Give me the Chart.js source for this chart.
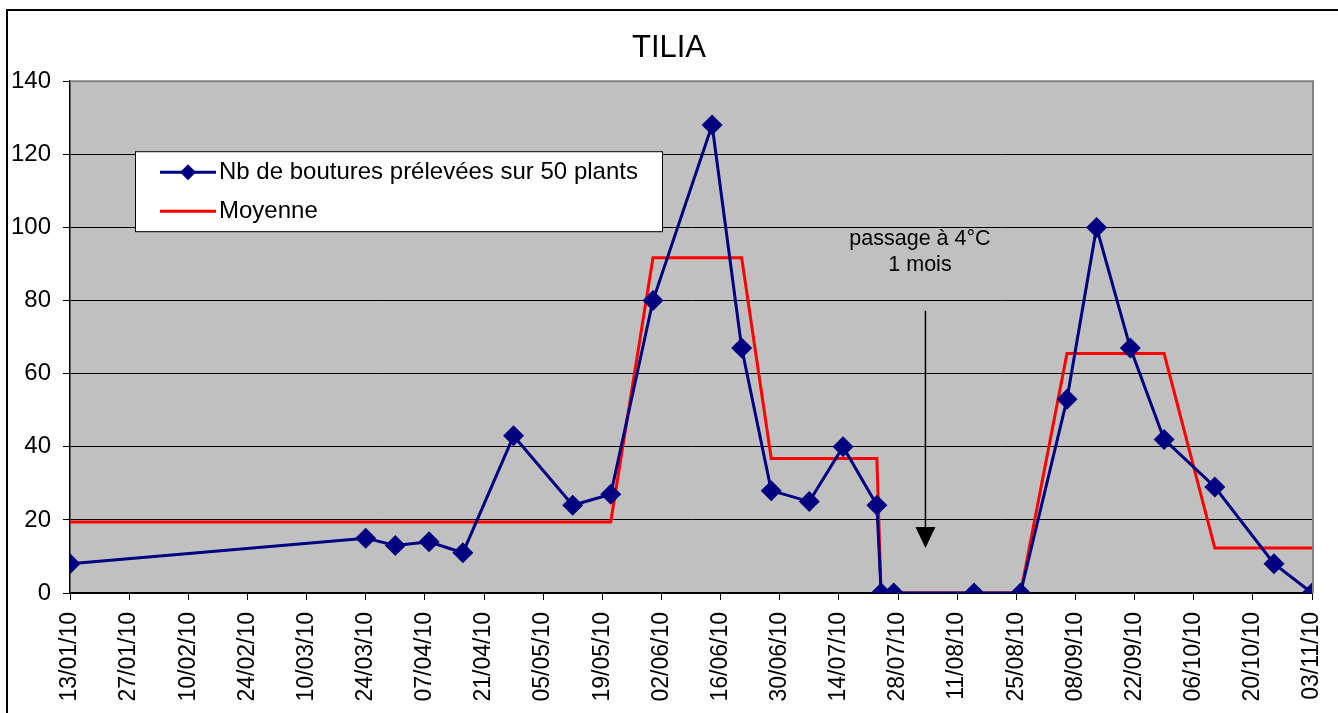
<!DOCTYPE html>
<html>
<head>
<meta charset="utf-8">
<title>TILIA</title>
<script src="https://cdn.jsdelivr.net/npm/chart.js@4.4.1/dist/chart.umd.min.js"></script>
<style>
  html, body { margin: 0; padding: 0; background: #fff; overflow: hidden; }
  #wrap { width: 1338px; height: 713px; position: relative; }
</style>
</head>
<body>
<div id="wrap"><canvas id="tilia" width="1338" height="713"></canvas></div>
<script>
// dates des prelevements
const dates = ['2010-01-13', '2010-03-24', '2010-03-31', '2010-04-08', '2010-04-16', '2010-04-28',
    '2010-05-12', '2010-05-21', '2010-05-31', '2010-06-14', '2010-06-21', '2010-06-28',
    '2010-07-07', '2010-07-15', '2010-07-23', '2010-07-24', '2010-07-27', '2010-08-15',
    '2010-08-26', '2010-09-06', '2010-09-13', '2010-09-21', '2010-09-29', '2010-10-11',
    '2010-10-25', '2010-11-03']
const boutures = [8, 15, 13, 14, 11, 43, 24, 27, 80, 128, 67, 28, 25, 40, 24, 0, 0, 0, 0,
    53, 100, 67, 42, 29, 8, 0]
const moyenne = [19.4, 19.4, 19.4, 19.4, 19.4, 19.4, 19.4, 19.4, 91.7, 91.7, 91.7,
    36.8, 36.8, 36.8, 36.8, 0, 0, 0, 0, 65.5, 65.5, 65.5, 65.5, 12.3, 12.3, 12.3]
const tickLabels = ['13/01/10', '27/01/10', '10/02/10', '24/02/10', '10/03/10', '24/03/10',
    '07/04/10', '21/04/10', '05/05/10', '19/05/10', '02/06/10', '16/06/10', '30/06/10',
    '14/07/10', '28/07/10', '11/08/10', '25/08/10', '08/09/10', '22/09/10', '06/10/10',
    '20/10/10', '03/11/10']

const FONT = "'Liberation Sans', Arial, sans-serif"
const DAY = 86400000
const t0 = Date.parse(dates[0])
const days = dates.map(d => (Date.parse(d) - t0) / DAY)

// passage a 4 degres (jour ~ 03/08)
const arrowDay = 202.5

const fond = {
    id: 'fond',
    beforeDraw(chart) {
        const ctx = chart.ctx, a = chart.chartArea
        ctx.save()
        ctx.fillStyle = '#fff'
        ctx.fillRect(0, 0, chart.width, chart.height)
        ctx.fillStyle = '#c0c0c0'
        ctx.fillRect(a.left, a.top, a.right - a.left, a.bottom - a.top)
        // cadre exterieur
        ctx.strokeStyle = '#000'
        ctx.lineWidth = 2
        ctx.strokeRect(7, 10, chart.width + 10, chart.height + 10)
        ctx.restore()
    },
    beforeDatasetsDraw(chart) {
        const ctx = chart.ctx, a = chart.chartArea
        ctx.save()
        ctx.strokeStyle = '#808080'
        ctx.lineWidth = 2
        ctx.beginPath()
        ctx.moveTo(a.left, a.top)
        ctx.lineTo(a.right + 1, a.top)
        ctx.lineTo(a.right + 1, a.bottom)
        ctx.stroke()
        // fleche + texte
        const x = chart.scales.x.getPixelForValue(arrowDay)
        const y = chart.scales.y
        const yTop = y.getPixelForValue(77.2), yTip = y.getPixelForValue(12.3)
        ctx.strokeStyle = '#000'
        ctx.lineWidth = 1.5
        ctx.beginPath()
        ctx.moveTo(x, yTop)
        ctx.lineTo(x, yTip - 18)
        ctx.stroke()
        ctx.fillStyle = '#000'
        ctx.beginPath()
        ctx.moveTo(x - 10, yTip - 21)
        ctx.lineTo(x + 10, yTip - 21)
        ctx.lineTo(x, yTip)
        ctx.closePath()
        ctx.fill()
        ctx.font = '21.5px ' + FONT
        ctx.textAlign = 'center'
        ctx.textBaseline = 'middle'
        const tx = chart.scales.x.getPixelForValue(201.2)
        ctx.fillText('passage à 4°C', tx, y.getPixelForValue(96.8))
        ctx.fillText('1 mois', tx, y.getPixelForValue(89.6))
        ctx.restore()
    },
    afterDraw(chart) {
        // legende dans la zone du graphique
        const ctx = chart.ctx, a = chart.chartArea
        const bx = a.left + 65, by = a.top + 70, bw = 527, bh = 80
        ctx.save()
        ctx.fillStyle = '#fff'
        ctx.fillRect(bx, by, bw, bh)
        ctx.strokeStyle = '#000'
        ctx.lineWidth = 1
        ctx.strokeRect(bx + 0.5, by + 0.5, bw, bh)
        ctx.font = '24px ' + FONT
        ctx.textBaseline = 'middle'
        ctx.textAlign = 'left'
        chart.data.datasets.forEach((ds, i) => {
            const ly = by + 21 + i * 39
            ctx.strokeStyle = ds.borderColor
            ctx.lineWidth = 3
            ctx.beginPath()
            ctx.moveTo(bx + 25, ly)
            ctx.lineTo(bx + 81, ly)
            ctx.stroke()
            if (ds.pointRadius > 0) {
                ctx.fillStyle = ds.pointBackgroundColor
                ctx.beginPath()
                ctx.moveTo(bx + 53, ly - 8)
                ctx.lineTo(bx + 61, ly)
                ctx.lineTo(bx + 53, ly + 8)
                ctx.lineTo(bx + 45, ly)
                ctx.closePath()
                ctx.fill()
            }
            ctx.fillStyle = '#000'
            ctx.fillText(ds.label, bx + 84, ly)
        })
        ctx.restore()
    }
}

new Chart(document.getElementById('tilia').getContext('2d'), {
    type: 'line',
    data: {
        datasets: [{
            label: 'Nb de boutures prélevées sur 50 plants',
            data: days.map((d, i) => ({ x: d, y: boutures[i] })),
            borderColor: '#000080',
            borderWidth: 3,
            pointStyle: 'rectRot',
            pointRadius: 10.5,
            pointBackgroundColor: '#000080',
            pointBorderColor: '#000080',
            pointBorderWidth: 0,
            tension: 0,
            order: 1
        }, {
            label: 'Moyenne',
            data: days.map((d, i) => ({ x: d, y: moyenne[i] })),
            borderColor: '#ff0000',
            borderWidth: 3,
            pointRadius: 0,
            tension: 0,
            order: 2
        }]
    },
    options: {
        responsive: false,
        animation: false,
        events: [],
        layout: { padding: 0 },
        plugins: {
            legend: { display: false },
            tooltip: { enabled: false },
            title: {
                display: true,
                text: 'TILIA',
                color: '#000',
                font: { family: FONT, size: 31, weight: 'normal' },
                padding: { top: 30, bottom: 14 }
            }
        },
        scales: {
            x: {
                type: 'linear',
                min: 0,
                max: 294,
                afterFit(scale) {
                    scale.height = 120
                    scale.paddingLeft = 0
                    scale.paddingRight = 26
                },
                afterBuildTicks(scale) {
                    scale.ticks = tickLabels.map((l, i) => ({ value: i * 14 }))
                },
                ticks: {
                    autoSkip: false,
                    minRotation: 90,
                    maxRotation: 90,
                    padding: 12,
                    color: '#000',
                    font: { family: FONT, size: 23 },
                    callback: (v, i) => tickLabels[i]
                },
                grid: { drawOnChartArea: false, drawTicks: true, tickLength: 7, color: '#000' },
                border: { color: '#000', width: 1.5 }
            },
            y: {
                min: 0,
                max: 140,
                afterFit(scale) { scale.width = 70 },
                ticks: {
                    stepSize: 20,
                    padding: 12,
                    color: '#000',
                    font: { family: FONT, size: 24 }
                },
                grid: { color: '#000', lineWidth: 1, tickLength: 7 },
                border: { color: '#000', width: 1.5 }
            }
        }
    },
    plugins: [fond]
})
</script>
</body>
</html>
